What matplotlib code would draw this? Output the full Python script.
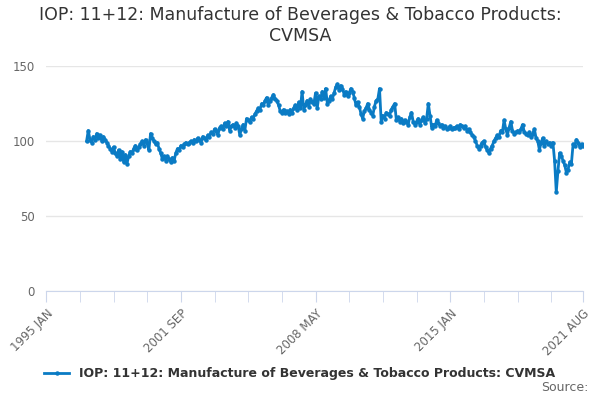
import numpy as np
import matplotlib.pyplot as plt

years = list(range(1995, 2022))
months = ['JAN', 'FEB', 'MAR', 'APR', 'MAY', 'JUN', 'JUL', 'AUG', 'SEP', 'OCT', 'NOV', 'DEC']
labels = [f"{y} {m}" for y in years for m in months][:320]  # 1995 JAN .. 2021 AUG

values = [np.nan] * 24 + [
    100, 107, 101, 99, 103, 101, 105, 102, 104, 100, 103, 101,   # 1997
    99, 97, 95, 93, 96, 92, 90, 94, 88, 93, 86, 91,              # 1998
    85, 90, 93, 92, 95, 97, 94, 96, 98, 100, 97, 101,            # 1999
    99, 94, 105, 102, 100, 98, 99, 95, 92, 88, 90, 87,           # 2000
    90, 88, 86, 89, 87, 92, 95, 94, 97, 96, 98, 99,              # 2001
    98, 99, 100, 99, 101, 100, 102, 101, 99, 103, 102, 101,      # 2002
    104, 103, 106, 105, 108, 107, 104, 109, 110, 108, 112, 110,  # 2003
    113, 107, 110, 111, 109, 112, 110, 104, 108, 111, 107, 115,  # 2004
    114, 113, 116, 115, 118, 120, 122, 121, 125, 124, 127, 129,  # 2005
    124, 127, 129, 131, 128, 127, 124, 120, 119, 121, 119, 120,  # 2006
    118, 121, 119, 122, 124, 121, 126, 122, 133, 121, 124, 127,  # 2007
    123, 128, 126, 125, 132, 122, 130, 128, 133, 129, 135, 125,  # 2008
    127, 130, 128, 132, 136, 138, 134, 137, 135, 131, 133, 130,  # 2009
    132, 135, 133, 129, 124, 126, 123, 118, 115, 120, 122, 125,  # 2010
    121, 119, 117, 123, 127, 128, 135, 113, 117, 115, 119, 118,  # 2011
    117, 121, 123, 125, 114, 116, 113, 115, 112, 114, 113, 111,  # 2012
    116, 119, 113, 111, 113, 115, 111, 114, 116, 112, 115, 125,  # 2013
    117, 109, 111, 110, 114, 112, 110, 111, 109, 110, 108, 109,  # 2014
    110, 108, 109, 109, 110, 108, 111, 110, 109, 110, 107, 108,  # 2015
    106, 104, 103, 100, 97, 95, 97, 99, 100, 96, 94, 92,         # 2016
    95, 97, 100, 102, 104, 103, 107, 106, 114, 108, 104, 109,    # 2017
    113, 107, 105, 106, 107, 106, 108, 111, 106, 105, 104, 106,  # 2018
    103, 105, 108, 102, 100, 94, 99, 102, 97, 100, 98, 99,       # 2019
    97, 99, 87, 66, 80, 92, 90, 87, 84, 79, 81, 86,              # 2020
    85, 98, 97, 101, 99, 96, 98, 97,                             # 2021
]

series_name = "IOP: 11+12: Manufacture of Beverages & Tobacco Products: CVMSA"

fig = plt.figure(figsize=(6, 4), dpi=100)
ax = fig.add_axes([0.077, 0.2725, 0.895, 0.5625])

x = np.arange(len(labels))
ax.plot(x, values, color='#0a7bc4', lw=2, marker='o', ms=2.2, label=series_name)

ax.set_xlim(0, len(labels) - 1)
ax.set_ylim(0, 150)
ax.set_yticks([0, 50, 100, 150])
ax.grid(axis='y', color='#e6e6e6', lw=1)
ax.set_axisbelow(True)

minor = list(range(0, 320, 20)) + [319]
ax.set_xticks(minor, minor=True)
major = [0, 80, 160, 240, 319]
ax.set_xticks(major)
ax.set_xticklabels([labels[i] for i in major], rotation=45, ha='right',
                   rotation_mode='anchor', color='#666666', fontsize=8.5)
ax.tick_params(axis='x', which='both', length=8, color='#ccd6eb', direction='out')
ax.tick_params(axis='y', length=0, labelcolor='#666666', labelsize=8.5, pad=8)

for s in ['top', 'right', 'left']:
    ax.spines[s].set_visible(False)
ax.spines['bottom'].set_color('#ccd6eb')

fig.suptitle("IOP: 11+12: Manufacture of Beverages & Tobacco Products:\nCVMSA",
             y=0.985, fontsize=12.5, color='#333333')
leg = fig.legend(loc='center', bbox_to_anchor=(0.5, 0.065), frameon=False,
                 prop={'weight': 'bold', 'size': 9}, handlelength=2)
for t in leg.get_texts():
    t.set_color('#333333')
fig.text(0.98, 0.015, "Source:", ha='right', va='bottom', fontsize=9, color='#666666')

fig.savefig('out.png', dpi=100)
